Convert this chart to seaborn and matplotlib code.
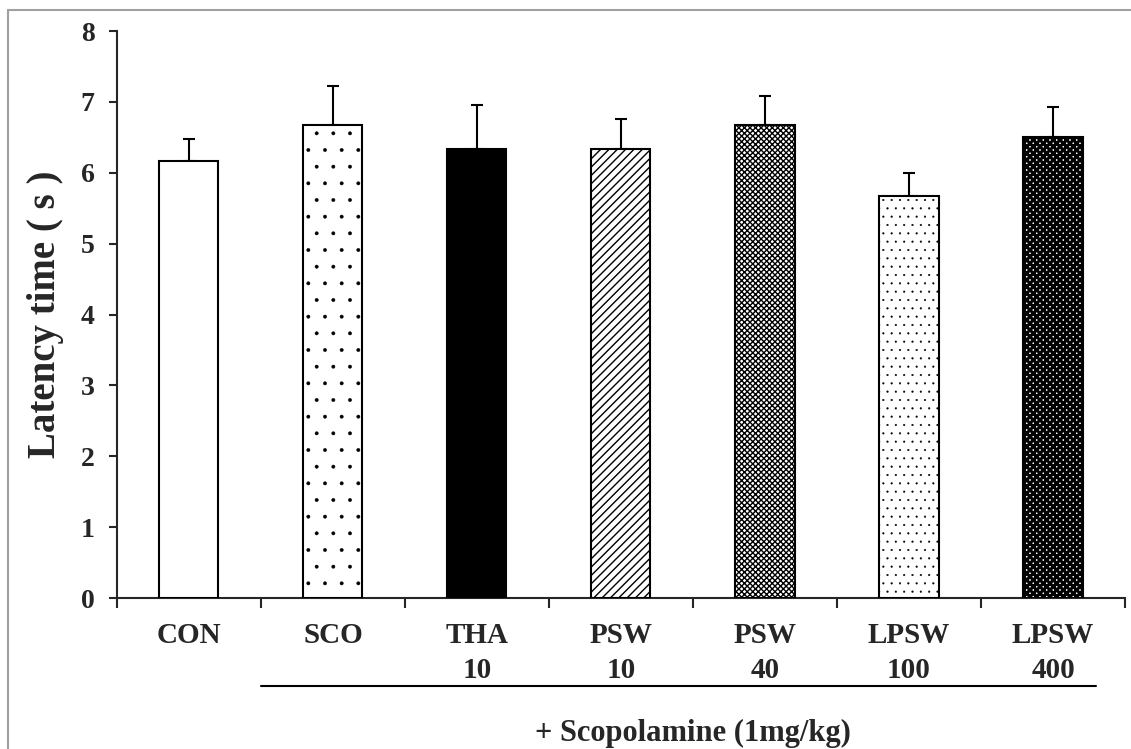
import matplotlib
matplotlib.use('Agg')
import matplotlib.pyplot as plt
from matplotlib.lines import Line2D
import seaborn as sns
import numpy as np
import pandas as pd

# datos
groups = ['CON', 'SCO', 'THA\n10', 'PSW\n10', 'PSW\n40', 'LPSW\n100', 'LPSW\n400']
latency = [6.17, 6.67, 6.33, 6.33, 6.67, 5.67, 6.50]
sem = [0.30, 0.56, 0.62, 0.43, 0.42, 0.33, 0.43]
hatches = ['', '.', '', '////', 'xxxxxx', '..', 'xxxxx']
hatch_lw = [1.0, 0.3, 1.0, 1.0, 1.0, 0.3, 2.2]
fills = ['white', 'white', 'black', 'white', 'white', 'white', 'white']
yticks = [0, 1, 2, 3, 4, 5, 6, 7, 8]

sns.set_style('ticks')
plt.rcParams['font.family'] = ['Liberation Serif', 'DejaVu Serif']
plt.rcParams['font.weight'] = 'bold'
plt.rcParams['hatch.linewidth'] = 1.0

df = pd.DataFrame({'group': groups, 'latency': latency})

fig = plt.figure(figsize=(11.31, 7.49), dpi=100)
ax = fig.add_axes([0.1034, 0.2016, 0.8913, 0.757])

sns.barplot(data=df, x='group', y='latency', color='white', edgecolor='black',
            linewidth=1.5, width=0.41, errorbar=None, ax=ax, zorder=3)

for bar, h, fc, lw in zip(ax.patches, hatches, fills, hatch_lw):
    bar.set_facecolor(fc)
    bar.set_hatch(h)
    if hasattr(bar, 'set_hatch_linewidth'):
        bar.set_hatch_linewidth(lw)

n = len(groups)
ax.errorbar(np.arange(n), latency, yerr=[np.zeros(n), sem], fmt='none',
            ecolor='black', elinewidth=1.5, capsize=4.3, capthick=1.5, zorder=2)

ax.set_xlim(-0.5, n - 0.5)
ax.set_ylim(0, 8)
ax.set_yticks(yticks)
ax.set_xticks(np.arange(n))
ax.set_xticklabels(groups, fontsize=21, fontweight='bold', linespacing=1.4, va='top')
ax.set_xticks(np.arange(n + 1) - 0.5, minor=True)
ax.tick_params(axis='x', which='major', length=0, pad=17)
ax.tick_params(axis='x', which='minor', length=7, width=1.5, direction='out')
ax.tick_params(axis='y', length=6, width=1.5, direction='out', labelsize=20, pad=10)
for lab in ax.get_yticklabels():
    lab.set_fontweight('bold')

ax.set_xlabel('')
ax.set_ylabel('Latency time ( s )', fontsize=28, fontweight='bold', labelpad=12)
sns.despine(ax=ax)
ax.spines['left'].set_linewidth(1.5)
ax.spines['bottom'].set_linewidth(1.5)

# linea bajo los grupos con escopolamina
ax.plot([0.5, 6.3], [-1.24, -1.24], color='black', lw=1.5, clip_on=False)
ax.text(3.5, -2.02, '+ Scopolamine (1mg/kg)', ha='center', va='baseline',
        fontsize=22, fontweight='bold', clip_on=False)

# marco gris de la figura
fig.add_artist(Line2D([8 / 1131, 8 / 1131], [0, 1 - 10 / 749], color='#a0a0a0', lw=1.5))
fig.add_artist(Line2D([8 / 1131, 1], [1 - 10 / 749, 1 - 10 / 749], color='#a0a0a0', lw=1.5))

plt.savefig('out.png', dpi=100)
